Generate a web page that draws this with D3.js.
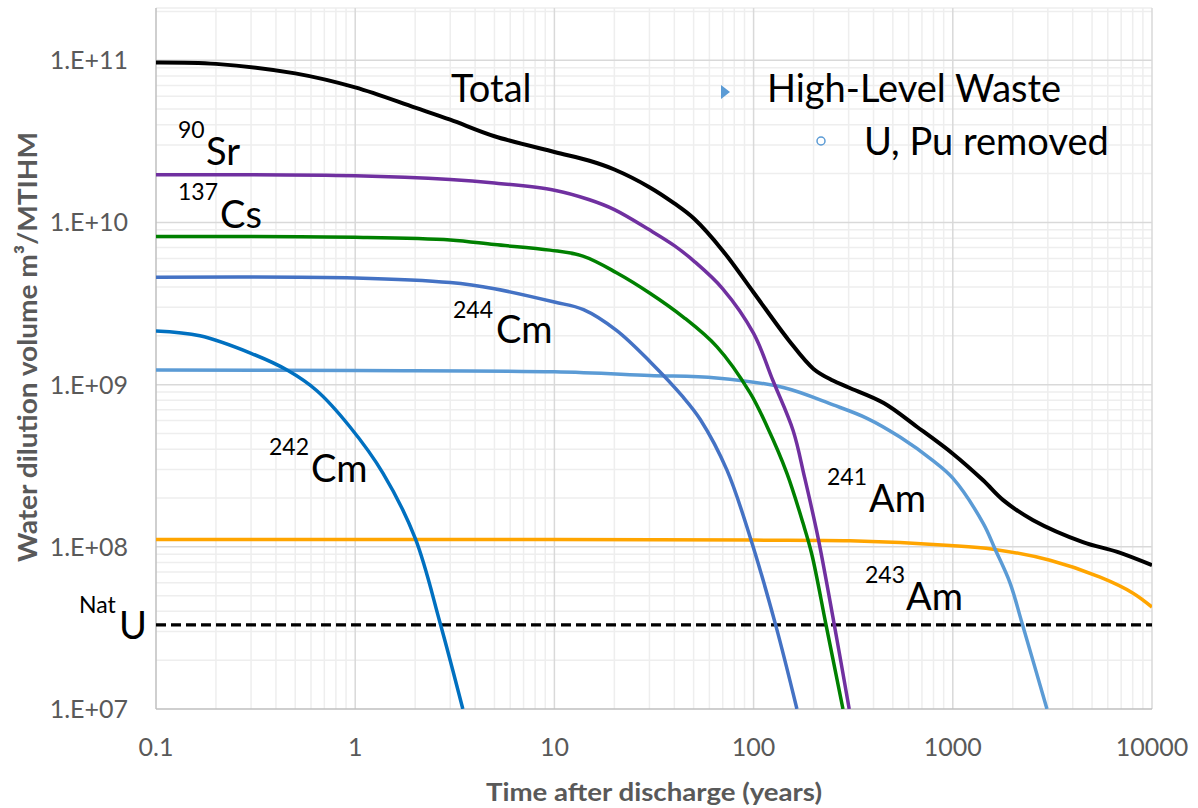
<!DOCTYPE html>
<html>
<head>
<meta charset="utf-8">
<script src="https://cdn.jsdelivr.net/npm/d3@7"></script>
<style>
  body { margin: 0; background: #fff; }
  text { font-family: Lato, "Open Sans", sans-serif; }
</style>
</head>
<body>
<script>
// values: [years, m3/MTIHM]
var total = [[0.1,9.7e10],[0.2,9.5e10],[0.5,8.3e10],[1,6.8e10],[2,5.1e10],[3,4.3e10],[5,3.4e10],[10,2.72e10],
  [15,2.4e10],[20,2.12e10],[30,1.65e10],[40,1.31e10],[50,1.06e10],[70,6.7e9],[100,3.7e9],[150,1.88e9],
  [200,1.25e9],[250,1.06e9],[300,9.6e8],[450,7.7e8],[660,5.5e8],[1000,3.75e8],[1420,2.57e8],[1790,1.94e8],
  [2530,1.46e8],[4500,1.07e8],[6700,9.3e7],[10000,7.7e7]];
var sr90 = [[0.1,1.97e10],[1,1.94e10],[3,1.84e10],[5,1.75e10],[10,1.58e10],[15,1.38e10],[20,1.2e10],[30,9.0e9],
  [40,7.2e9],[50,5.8e9],[70,3.9e9],[100,2.07e9],[125,1.06e9],[158,5.2e8],[180,2.7e8],[210,1.16e8],[250,3.7e7],[302,1e7]];
var cs137 = [[0.1,8.2e9],[1,8.1e9],[3,7.8e9],[5,7.3e9],[9.5,6.75e9],[13.9,6.2e9],[20.5,4.9e9],[30.3,3.65e9],
  [44.2,2.62e9],[65.5,1.71e9],[96,8.9e8],[117,5.5e8],[147,2.84e8],[177,1.4e8],[196,9e7],[231,3.3e7],[281,1e7]];
var cm244 = [[0.1,4.6e9],[1,4.55e9],[3,4.26e9],[5,3.9e9],[10,3.23e9],[14,2.9e9],[20.5,2.16e9],[30.3,1.38e9],
  [44.2,8.4e8],[54,6.1e8],[73.5,2.97e8],[96,1.15e8],[129,3.3e7],[165,1e7]];
var cm242 = [[0.1,2.14e9],[0.166,2.0e9],[0.3,1.56e9],[0.455,1.23e9],[0.64,9.2e8],[0.94,5.5e8],[1.38,2.84e8],
  [2.0,1.13e8],[2.67,3.38e7],[3.47,1e7]];
var am241 = [[0.1,1.23e9],[1,1.22e9],[10,1.2e9],[30,1.14e9],[65,1.1e9],[141,9.6e8],[251,7.5e8],[371,6.2e8],
  [543,4.75e8],[795,3.4e8],[1000,2.65e8],[1419,1.4e8],[1629,9.7e7],[1937,6.0e7],[2224,3.4e7],[2970,1e7]];
var am243 = [[0.1,1.11e8],[10,1.11e8],[100,1.1e8],[305,1.09e8],[968,1.02e8],[1592,9.67e7],[3076,8.26e7],
  [5488,6.5e7],[8035,5.18e7],[10000,4.25e7]];
var natU = [[0.1,3.3e7],[10000,3.3e7]];

var xTicks = [0.1, 1, 10, 100, 1000, 10000];
var xTickLabels = ["0.1", "1", "10", "100", "1000", "10000"];
var yTicks = [1e7, 1e8, 1e9, 1e10, 1e11];
var yTickLabels = ["1.E+07", "1.E+08", "1.E+09", "1.E+10", "1.E+11"];

var width = 1198, height = 808;
var margin = {top: 8, right: 46, bottom: 99, left: 156};

var svg = d3.select("body").append("svg")
    .attr("width", width)
    .attr("height", height);

var x = d3.scaleLog().domain([0.1, 10000]).range([margin.left, width - margin.right]);
var y = d3.scaleLog().domain([1e7, 2.1e11]).range([height - margin.bottom, margin.top]);

// minor grid values
var xMinor = [], yMinor = [];
xTicks.slice(0, -1).forEach(function(d) { for (var k = 2; k < 10; k++) xMinor.push(d * k); });
yTicks.forEach(function(d) { for (var k = 2; k < 10; k++) if (d * k <= 2.1e11) yMinor.push(d * k); });

var grid = svg.append("g");
grid.selectAll(".xm").data(xMinor).enter().append("line")
    .attr("x1", x).attr("x2", x).attr("y1", y.range()[1]).attr("y2", y.range()[0])
    .attr("stroke", "#eeeeee").attr("stroke-width", 1.5);
grid.selectAll(".ym").data(yMinor).enter().append("line")
    .attr("y1", y).attr("y2", y).attr("x1", x.range()[0]).attr("x2", x.range()[1])
    .attr("stroke", "#eeeeee").attr("stroke-width", 1.5);
grid.append("line")
    .attr("x1", x.range()[0]).attr("x2", x.range()[1]).attr("y1", margin.top).attr("y2", margin.top)
    .attr("stroke", "#eeeeee").attr("stroke-width", 1.5);
grid.selectAll(".xM").data(xTicks.slice(1)).enter().append("line")
    .attr("x1", x).attr("x2", x).attr("y1", y.range()[1]).attr("y2", y.range()[0])
    .attr("stroke", "#d9d9d9").attr("stroke-width", 1.5);
grid.selectAll(".yM").data(yTicks.slice(1)).enter().append("line")
    .attr("y1", y).attr("y2", y).attr("x1", x.range()[0]).attr("x2", x.range()[1])
    .attr("stroke", "#d9d9d9").attr("stroke-width", 1.5);

// axes lines
svg.append("line").attr("x1", x.range()[0]).attr("x2", x.range()[0])
    .attr("y1", margin.top).attr("y2", y.range()[0]).attr("stroke", "#bfbfbf").attr("stroke-width", 1.5);
svg.append("line").attr("x1", x.range()[0]).attr("x2", x.range()[1])
    .attr("y1", y.range()[0]).attr("y2", y.range()[0]).attr("stroke", "#bfbfbf").attr("stroke-width", 1.5);

// tick labels
svg.selectAll(".ytl").data(yTicks).enter().append("text")
    .attr("x", 128).attr("y", function(d) { return y(d) + 9; })
    .attr("text-anchor", "end").attr("fill", "#595959").attr("font-size", 25)
    .text(function(d, i) { return yTickLabels[i]; });
svg.selectAll(".xtl").data(xTicks).enter().append("text")
    .attr("x", x).attr("y", 756)
    .attr("text-anchor", "middle").attr("fill", "#595959").attr("font-size", 25)
    .text(function(d, i) { return xTickLabels[i]; });

// axis titles
svg.append("text").attr("x", 654).attr("y", 801)
    .attr("text-anchor", "middle").attr("font-weight", "bold").attr("fill", "#595959")
    .attr("font-size", 24).attr("textLength", 336).attr("lengthAdjust", "spacingAndGlyphs")
    .text("Time after discharge (years)");
svg.append("text").attr("transform", "translate(37,347) rotate(-90)")
    .attr("text-anchor", "middle").attr("font-weight", "bold").attr("fill", "#595959")
    .attr("font-size", 27).attr("textLength", 430).attr("lengthAdjust", "spacingAndGlyphs")
    .text("Water dilution volume m\u00b3/MTIHM");

// clip
svg.append("clipPath").attr("id", "plot").append("rect")
    .attr("x", margin.left).attr("y", margin.top)
    .attr("width", x.range()[1] - margin.left).attr("height", y.range()[0] - margin.top);

var line = d3.line()
    .x(function(d) { return x(d[0]); })
    .y(function(d) { return y(d[1]); })
    .curve(d3.curveCatmullRom.alpha(0.5));

var series = [
  {data: am243, color: "#ffa500", w: 3.5},
  {data: am241, color: "#5b9bd5", w: 3.5},
  {data: cm242, color: "#0070c0", w: 3.5},
  {data: cm244, color: "#4472c4", w: 3.5},
  {data: cs137, color: "#008000", w: 3.5},
  {data: sr90, color: "#7030a0", w: 3.5},
  {data: total, color: "#000000", w: 4}
];

var plot = svg.append("g").attr("clip-path", "url(#plot)");
plot.append("path").datum(natU)
    .attr("d", line).attr("fill", "none").attr("stroke", "#000")
    .attr("stroke-width", 3.3).attr("stroke-dasharray", "10,5");
plot.selectAll(".series").data(series).enter().append("path")
    .attr("d", function(d) { return line(d.data); })
    .attr("fill", "none")
    .attr("stroke", function(d) { return d.color; })
    .attr("stroke-width", function(d) { return d.w; });

// annotations
function label(sup, main, sx, sy, mx, my) {
  if (sup) svg.append("text").attr("x", sx).attr("y", sy).attr("font-size", 23).attr("fill", "#000").text(sup);
  svg.append("text").attr("x", mx).attr("y", my).attr("font-size", 38).attr("fill", "#000").text(main);
}
label(null, "Total", 0, 0, 451, 102);
label("90", "Sr", 178, 138, 206, 165);
label("137", "Cs", 178, 200, 220, 228);
label("244", "Cm", 453, 318, 496, 343);
label("242", "Cm", 269, 455, 311, 482);
label("241", "Am", 827, 485, 869, 512);
label("243", "Am", 865, 583, 906, 610);
label("Nat", "U", 79, 613, 119, 639);

// bullet text block
svg.append("path").attr("d", "M721,85 L730,92 L721,99 Z").attr("fill", "#5b9bd5");
svg.append("text").attr("x", 767).attr("y", 102).attr("font-size", 38).attr("fill", "#000").text("High-Level Waste");
svg.append("circle").attr("cx", 821).attr("cy", 141).attr("r", 4)
    .attr("fill", "none").attr("stroke", "#5b9bd5").attr("stroke-width", 1.5);
svg.append("text").attr("x", 864).attr("y", 155).attr("font-size", 38).attr("fill", "#000").text("U, Pu removed");
</script>
</body>
</html>
